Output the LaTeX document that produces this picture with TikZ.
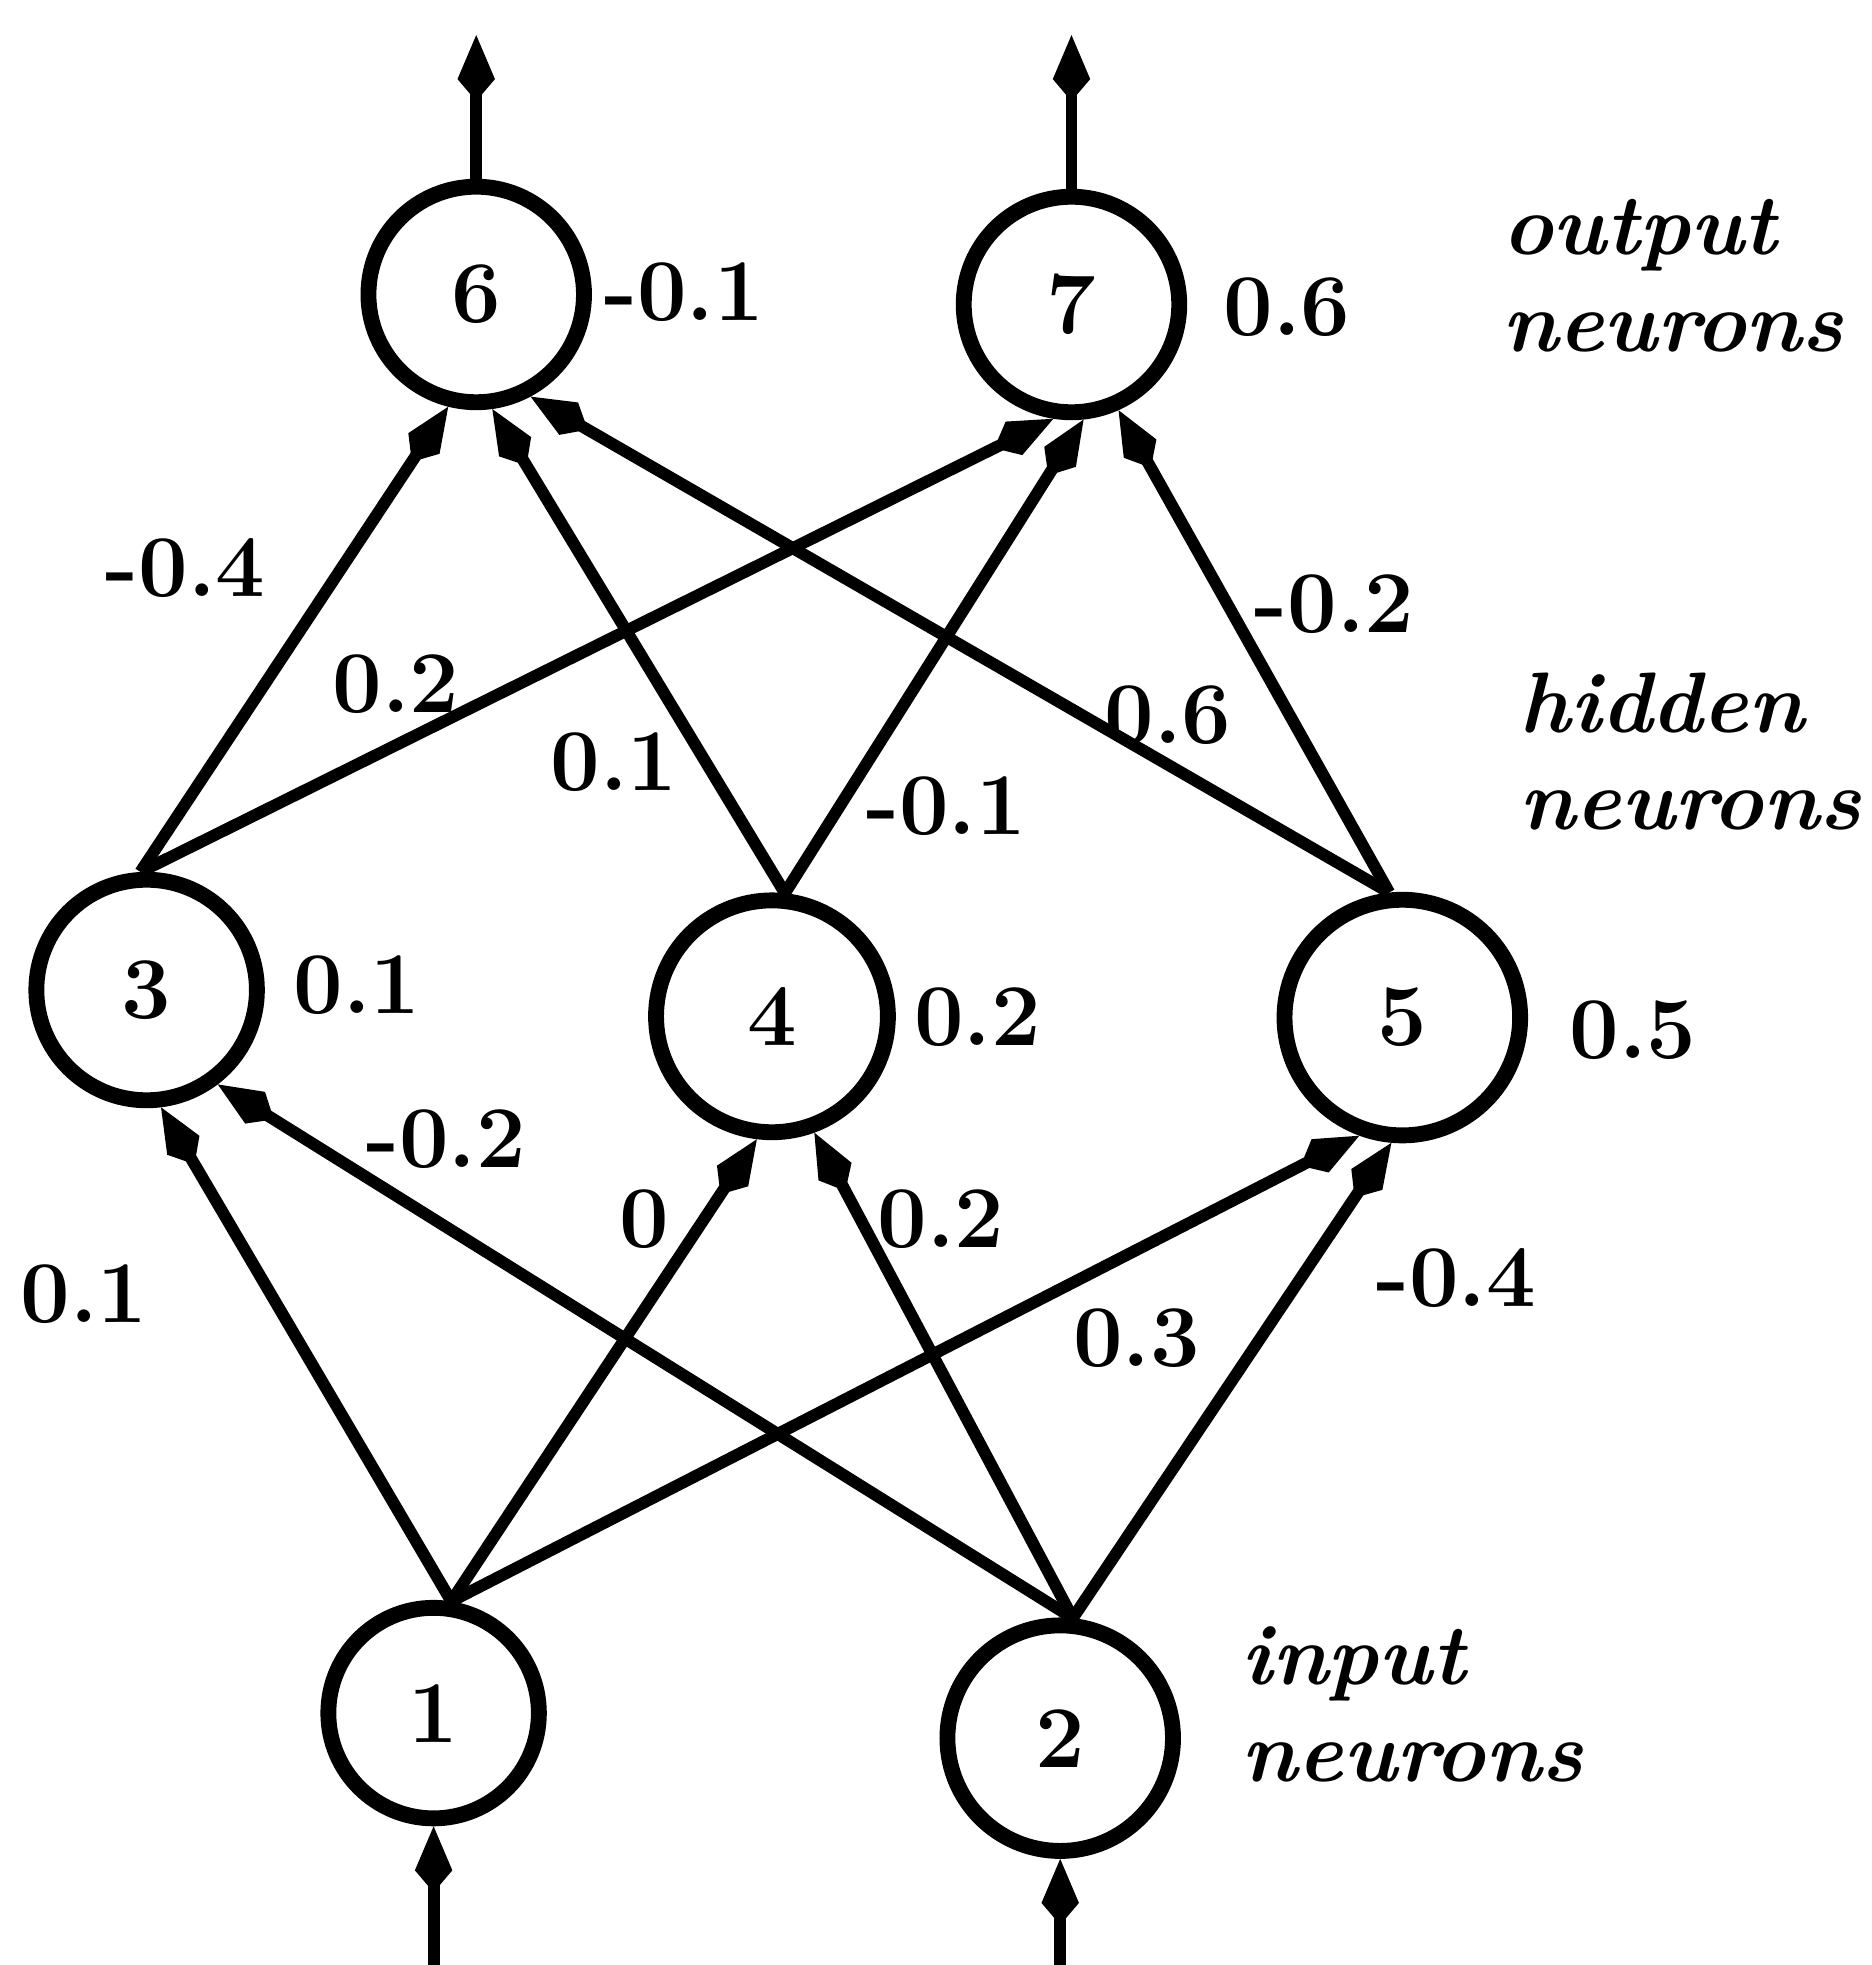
\documentclass[tikz,border=0pt]{standalone}
\usetikzlibrary{arrows.meta}
\begin{document}
\begin{tikzpicture}[x=1cm,y=1cm,
  neuron/.style={draw, circle, line width=3.6pt, inner sep=0pt, font=\fontsize{20}{24}\selectfont\bfseries},
  conn/.style={line width=2.7pt, -{Kite[length=15pt,width=8.5pt,inset=5pt]}},
  wt/.style={inner sep=0pt, font=\fontsize{20}{24}\selectfont\bfseries},
  layer/.style={inner sep=0pt, align=left, anchor=west, font=\fontsize{19.5}{22}\selectfont\bfseries\itshape}]
\useasboundingbox (0,0) rectangle (14.93,15.68);
% neurons
\node[neuron, minimum size=1.72cm] (n6) at (3.80,13.33) {6};
\node[neuron, minimum size=1.72cm] (n7) at (8.55,13.25) {7};
\node[neuron, minimum size=1.76cm] (n3) at (1.17,7.78) {3};
\node[neuron, minimum size=1.85cm] (n4) at (6.16,7.57) {4};
\node[neuron, minimum size=1.88cm] (n5) at (11.19,7.56) {5};
\node[neuron, minimum size=1.68cm] (n1) at (3.46,2.01) {1};
\node[neuron, minimum size=1.80cm] (n2) at (8.46,1.81) {2};
% free ends
\coordinate (in1) at (3.46,0);
\coordinate (in2) at (8.46,0);
\coordinate (out6) at (3.80,15.40);
\coordinate (out7) at (8.55,15.40);
% input / output arrows
\draw[conn] (in1) -- (n1.south);
\draw[conn] (in2) -- (n2.south);
\draw[conn] (n6.north) -- (out6);
\draw[conn] (n7.north) -- (out7);
% input -> hidden
\draw[conn] (n1.81) -- (n3.-83);
\draw[conn] (n1.81) -- (n4.-97);
\draw[conn] (n1.81) -- (n5.-110);
\draw[conn] (n2.84) -- (n3.-53);
\draw[conn] (n2.84) -- (n4.-70);
\draw[conn] (n2.84) -- (n5.-95);
% hidden -> output
\draw[conn] (n3.93) -- (n6.-104);
\draw[conn] (n3.93) -- (n7.-99);
\draw[conn] (n4.84) -- (n6.-82);
\draw[conn] (n4.84) -- (n7.-84);
\draw[conn] (n5.96) -- (n6.-62);
\draw[conn] (n5.96) -- (n7.-66);
% thresholds
\node[wt] (t6) at (5.46,13.35) {-0.1};
\node[wt] (t7) at (10.27,13.23) {0.6};
\node[wt] (t3) at (2.85,7.82) {0.1};
\node[wt] (t4) at (7.80,7.56) {0.2};
\node[wt] (t5) at (13.03,7.46) {0.5};
% weights hidden -> output
\node[wt] (w36) at (1.48,11.15) {-0.4};
\node[wt] (w37) at (3.16,10.22) {0.2};
\node[wt] (w46) at (4.90,9.60) {0.1};
\node[wt] (w47) at (7.55,9.25) {-0.1};
\node[wt] (w57) at (10.65,10.86) {-0.2};
\node[wt] (w56) at (9.32,9.97) {0.6};
% weights input -> hidden
\node[wt] (w23) at (3.56,6.59) {-0.2};
\node[wt] (w14) at (5.14,5.95) {0};
\node[wt] (w24) at (7.51,5.95) {0.2};
\node[wt] (w13) at (0.67,5.35) {0.1};
\node[wt] (w25) at (11.62,5.48) {-0.4};
\node[wt] (w15) at (9.07,5.00) {0.3};
% layer names
\node[layer] (lout) at (11.98,13.48) {output\\neurons};
\node[layer] (lhid) at (12.12,9.68) {hidden\\neurons};
\node[layer] (lin) at (9.90,2.08) {input\\neurons};
\end{tikzpicture}
\end{document}
